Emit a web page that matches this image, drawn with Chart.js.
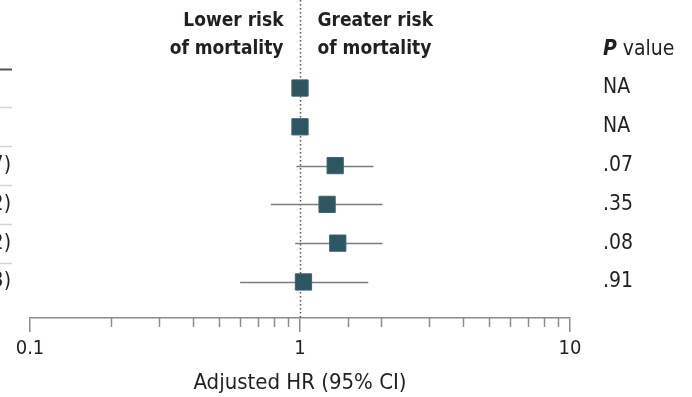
<!DOCTYPE html>
<html>
<head>
<meta charset="utf-8">
<script src="https://cdn.jsdelivr.net/npm/chart.js@4/dist/chart.umd.min.js"></script>
<style>
  body { margin: 0; background: #fff; }
  #wrap { width: 692px; height: 397px; }
</style>
</head>
<body>
<div id="wrap"><canvas id="chart"></canvas></div>
<script>
const rowLabels = ['', '', '7)', '2)', '2)', '3)'];
const hr = [1, 1, 1.35, 1.26, 1.38, 1.03];
const ciLow = [null, null, 0.97, 0.78, 0.96, 0.60];
const ciHigh = [null, null, 1.87, 2.02, 2.02, 1.79];
const pValues = ['NA', 'NA', '.07', '.35', '.08', '.91'];
const xTicks = [0.1, 1, 10];

const FONT = '"DejaVu Sans Condensed", "DejaVu Sans", sans-serif';
const TEXT = '#231f20';

function isMajor(v) {
    return xTicks.some(t => Math.abs(t - v) < 1e-9);
}

const forestPlugin = {
    id: 'forest',
    beforeDatasetsDraw(chart) {
        const ctx = chart.ctx;
        const x = chart.scales.x;
        const y = chart.scales.y;
        const area = chart.chartArea;
        ctx.save();

        // minor ticks under the axis
        ctx.strokeStyle = '#8c8c8c';
        ctx.lineWidth = 1.5;
        x.ticks.forEach(t => {
            if (isMajor(t.value)) return;
            const px = Math.round(x.getPixelForValue(t.value)) + 0.5;
            ctx.beginPath();
            ctx.moveTo(px, area.bottom);
            ctx.lineTo(px, area.bottom + 9);
            ctx.stroke();
        });

        // line of no effect
        const x1 = Math.round(x.getPixelForValue(1)) + 0.5;
        ctx.strokeStyle = '#555';
        ctx.lineWidth = 1.5;
        ctx.setLineDash([1.5, 2.5]);
        ctx.beginPath();
        ctx.moveTo(x1, 0);
        ctx.lineTo(x1, area.bottom);
        ctx.stroke();
        ctx.setLineDash([]);

        // confidence intervals
        ctx.strokeStyle = '#7d7d7d';
        ctx.lineWidth = 1.5;
        hr.forEach((v, i) => {
            if (ciLow[i] == null) return;
            const py = Math.round(y.getPixelForValue(i)) + 0.5;
            ctx.beginPath();
            ctx.moveTo(x.getPixelForValue(ciLow[i]), py);
            ctx.lineTo(x.getPixelForValue(ciHigh[i]), py);
            ctx.stroke();
        });

        // row separators on the left
        for (let i = 0; i < hr.length; i++) {
            const py = Math.round(y.getPixelForValue(i - 0.5)) + 0.5;
            ctx.strokeStyle = i === 0 ? '#555' : '#d4d4d4';
            ctx.lineWidth = i === 0 ? 2 : 1.5;
            ctx.beginPath();
            ctx.moveTo(0, py);
            ctx.lineTo(12, py);
            ctx.stroke();
        }

        // texts
        ctx.fillStyle = TEXT;
        ctx.font = 'bold 19px ' + FONT;
        ctx.textBaseline = 'alphabetic';
        ctx.textAlign = 'right';
        ctx.fillText('Lower risk', x1 - 17, 26);
        ctx.fillText('of mortality', x1 - 17, 54);
        ctx.textAlign = 'left';
        ctx.fillText('Greater risk', x1 + 17, 26);
        ctx.fillText('of mortality', x1 + 17, 54);

        const pX = 603;
        ctx.font = 'bold italic 21px ' + FONT;
        ctx.fillText('P', pX, 55);
        const pw = ctx.measureText('P').width;
        ctx.font = '21px ' + FONT;
        ctx.fillText(' value', pX + pw, 55);

        ctx.textBaseline = 'middle';
        pValues.forEach((p, i) => {
            ctx.fillText(p, pX, y.getPixelForValue(i));
        });
        ctx.textAlign = 'right';
        rowLabels.forEach((l, i) => {
            ctx.fillText(l, 11, y.getPixelForValue(i));
        });
        ctx.restore();
    }
};

new Chart(document.getElementById('chart'), {
    type: 'scatter',
    data: {
        datasets: [{
            data: hr.map((v, i) => ({ x: v, y: i })),
            pointStyle: 'rect',
            pointRadius: 11.5,
            pointHoverRadius: 11.5,
            backgroundColor: '#2e5562',
            borderColor: '#3d6470',
            borderWidth: 1
        }]
    },
    options: {
        responsive: true,
        maintainAspectRatio: false,
        animation: false,
        events: [],
        layout: { autoPadding: false, padding: { left: 30, right: 122, top: 0, bottom: 0 } },
        plugins: { legend: { display: false }, tooltip: { enabled: false } },
        scales: {
            x: {
                type: 'logarithmic',
                min: 0.1,
                max: 10,
                afterFit: s => { s.height = 79; },
                border: { display: true, color: '#8c8c8c', width: 1.5 },
                grid: {
                    drawOnChartArea: false,
                    drawTicks: true,
                    tickLength: 14,
                    lineWidth: 1.5,
                    tickColor: c => isMajor(c.tick.value) ? '#8c8c8c' : 'rgba(0,0,0,0)'
                },
                ticks: {
                    autoSkip: false,
                    maxRotation: 0,
                    padding: 5,
                    color: TEXT,
                    font: { family: FONT, size: 20 },
                    callback: v => isMajor(v) ? String(v) : ''
                },
                title: {
                    display: true,
                    text: 'Adjusted HR (95% CI)',
                    color: TEXT,
                    font: { family: FONT, size: 22 },
                    padding: { top: 0, bottom: 1 }
                }
            },
            y: {
                type: 'linear',
                display: false,
                reverse: true,
                min: -2.27,
                max: 5.93
            }
        }
    },
    plugins: [forestPlugin]
});
</script>
</body>
</html>
